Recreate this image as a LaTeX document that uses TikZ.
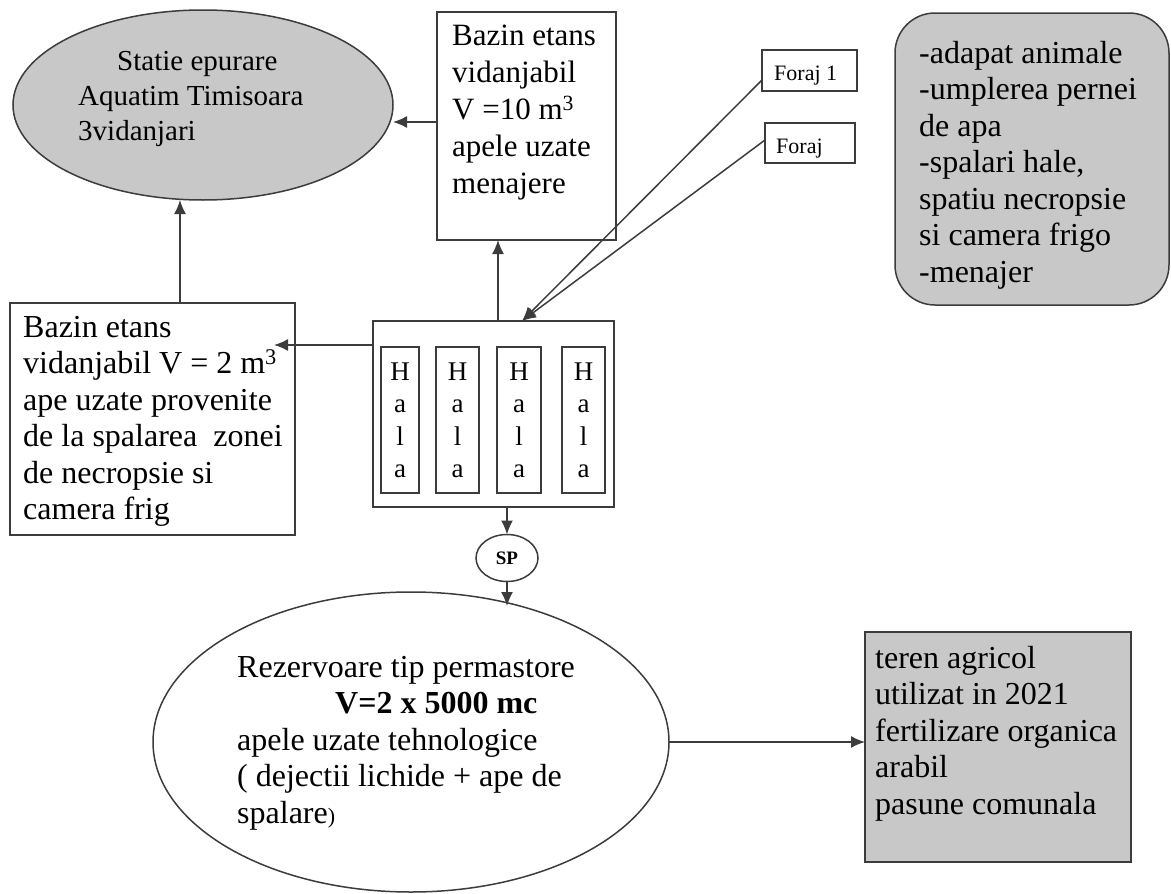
\documentclass[tikz,border=0pt]{standalone}
\usepackage{fontspec}
\setmainfont{Liberation Serif}
\usetikzlibrary{shapes.geometric,arrows.meta,calc}
\definecolor{lnc}{RGB}{60,60,60}
\definecolor{fillg}{RGB}{200,200,200}
\begin{document}
\begin{tikzpicture}[x=1pt,y=-1pt,
  shp/.style={draw=lnc, line width=1.5pt, inner sep=0pt, outer sep=0pt},
  arr/.style={draw=lnc, line width=1.5pt, -{Latex[length=14pt,width=12pt]}},
  txt/.style={anchor=north west, inner sep=0pt, align=left, text=black},
  hl/.style={anchor=north, inner sep=0pt, align=center, text=black, font=\fontsize{27}{32.5}\selectfont},
  fbig/.style={font=\fontsize{32}{36.5}\selectfont},
]
\useasboundingbox (0,0) rectangle (1171,894);

% shapes
\node[shp, ellipse, fill=fillg, minimum width=380pt, minimum height=190pt] (statie) at (203,105) {};
\node[shp, rectangle, minimum width=179pt, minimum height=228pt] (topbox) at (526.5,126) {};
\node[shp, rectangle, minimum width=285pt, minimum height=232pt] (leftbox) at (152.5,419) {};
\node[shp, rectangle, minimum width=241pt, minimum height=186pt] (halls) at (493.5,414) {};
\node[shp, rectangle, minimum width=38pt, minimum height=146pt] (hall1) at (400,420) {};
\node[shp, rectangle, minimum width=43pt, minimum height=146pt] (hall2) at (457.5,420) {};
\node[shp, rectangle, minimum width=44pt, minimum height=146pt] (hall3) at (519,420) {};
\node[shp, rectangle, minimum width=43pt, minimum height=146pt] (hall4) at (583.5,420) {};
\node[shp, rectangle, minimum width=95pt, minimum height=41pt] (foraj1) at (809.5,70.5) {};
\node[shp, rectangle, minimum width=90pt, minimum height=40pt] (foraj2) at (810,143) {};
\node[shp, rectangle, rounded corners=40pt, fill=fillg, minimum width=274pt, minimum height=292pt] (uses) at (1032,159) {};
\node[shp, ellipse, minimum width=62pt, minimum height=47pt, font=\bfseries\fontsize{19}{22}\selectfont] (sp) at (507,558) {SP};
\node[shp, ellipse, minimum width=516pt, minimum height=300pt] (tank) at (411,742) {};
\node[shp, rectangle, fill=fillg, minimum width=266pt, minimum height=230pt] (fields) at (998,747) {};

% texts
\node[txt, font=\fontsize{29}{35}\selectfont] (statietxt) at (78,45.5)
  {\strut\hspace*{39pt}Statie epurare\\Aquatim Timisoara\\3vidanjari};
\node[txt, font=\fontsize{31}{37}\selectfont] (toptxt) at (452,19)
  {\strut Bazin etans\\vidanjabil\\V =10 m\textsuperscript{3}\\apele uzate\\menajere};
\node[txt, fbig] (lefttxt) at (23,311.4)
  {\strut Bazin etans\\vidanjabil V = 2 m\textsuperscript{3}\\ape uzate provenite\\de la spalarea~ zonei\\de necropsie si\\camera frig};
\node[hl] (h1txt) at (hall1.center |- 0,357.25) {\strut H\\a\\l\\a};
\node[hl] (h2txt) at (hall2.center |- 0,357.25) {\strut H\\a\\l\\a};
\node[hl] (h3txt) at (hall3.center |- 0,357.25) {\strut H\\a\\l\\a};
\node[hl] (h4txt) at (hall4.center |- 0,357.25) {\strut H\\a\\l\\a};
\node[anchor=base west, inner sep=0pt, font=\fontsize{22}{26}\selectfont] (f1txt) at (774,80) {Foraj 1};
\node[anchor=base west, inner sep=0pt, font=\fontsize{22}{26}\selectfont] (f2txt) at (776,153) {Foraj};
\node[txt, fbig] (usestxt) at (919,37.4)
  {\strut -adapat animale\\-umplerea pernei\\de apa\\-spalari hale,\\spatiu necropsie\\si camera frigo\\-menajer};
\node[txt, fbig] (tanktxt) at (237,651.4)
  {\strut Rezervoare tip permastore\\\hspace*{98pt}\textbf{V=2 x 5000 mc}\\apele uzate tehnologice\\( dejectii lichide + ape de\\spalare{\fontsize{22}{26}\selectfont)}};
\node[txt, fbig] (fieldstxt) at (875,642.4)
  {\strut teren agricol\\utilizat in 2021\\fertilizare organica\\arabil\\pasune comunala};

% connectors
\coordinate (tbw) at (437,122);
\draw[arr] (tbw) -- (tbw -| statie.east);
\coordinate (lbup) at (180,303);
\draw[arr] (lbup) -- (lbup |- statie.south);
\coordinate (hup) at (498,321);
\draw[arr] (hup) -- (hup |- topbox.south);
\coordinate (lbtip) at (274,345);
\draw[arr] (halls.west |- lbtip) -- (lbtip);
\coordinate (hin) at (522,321);
\draw[arr] ([yshift=11pt]foraj1.south west) -- (hin);
\draw[arr] ([yshift=3pt]foraj2.west) -- (hin);
\draw[arr] (sp.north |- halls.south) -- (sp.north);
\coordinate (tanktop) at (507,606);
\draw[arr] (sp.south) -- (tanktop);
\draw[arr] (tank.east) -- (tank.east -| fields.west);
\end{tikzpicture}
\end{document}
